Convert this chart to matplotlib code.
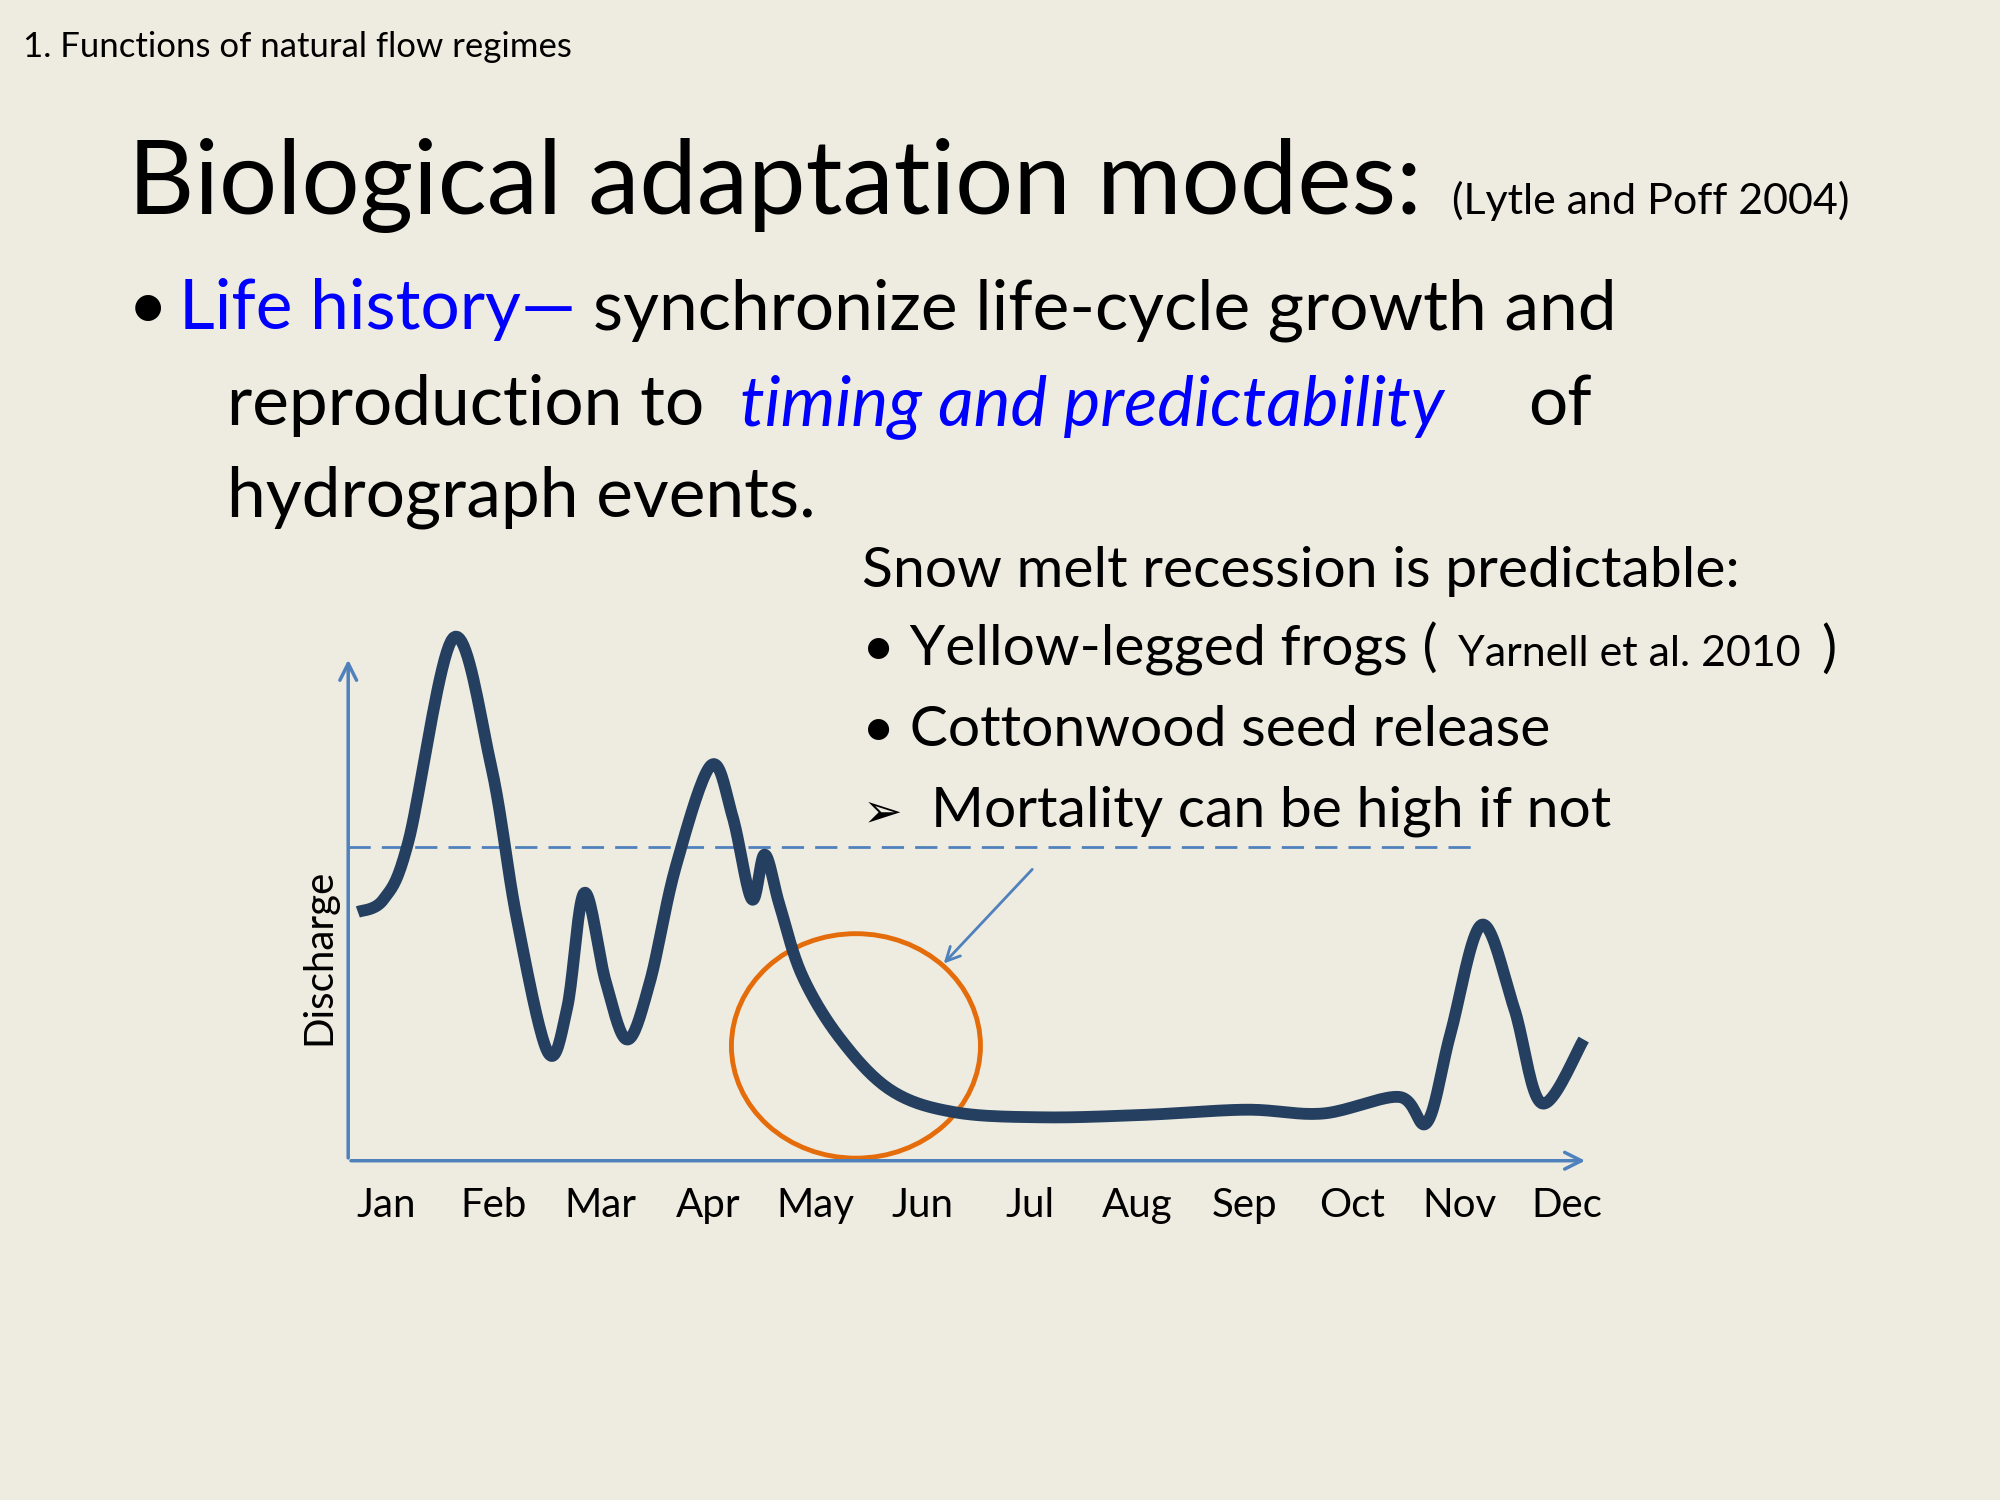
import matplotlib.pyplot as plt
import numpy as np
from matplotlib.patches import Ellipse

plt.rcParams["font.family"] = ["Lato", "DejaVu Sans"]

BG = "#EEEBE0"
LINE = "#243F60"
AXC = "#4F81BD"
BLUE = "#0000FF"

months = ["Jan", "Feb", "Mar", "Apr", "May", "Jun", "Jul", "Aug", "Sep", "Oct", "Nov", "Dec"]
# hydrograph control points: time in months (Jan = 0), discharge in arbitrary units
t = [-0.26, -0.02, 0.21, 0.63, 0.98, 1.22, 1.51, 1.69, 1.85, 2.05, 2.25, 2.46, 2.70, 3.03, 3.23,
     3.41, 3.53, 3.67, 3.88, 4.24, 4.71, 5.30, 6.13, 7.08, 8.02, 8.73, 9.44, 9.70, 9.92, 10.21,
     10.51, 10.77, 11.16]
q = [195, 205, 250, 410, 310, 190, 85, 120, 210, 140, 95, 140, 230, 310, 270,
     205, 240, 200, 145, 95, 55, 38, 34, 36, 40, 37, 50, 30, 100, 185,
     120, 45, 95]
threshold = 246


def catmull_rom(x, y, n=20):
    p = np.column_stack([x, y]).astype(float)
    p = np.vstack([p[0], p, p[-1]])
    out = []
    s = np.linspace(0, 1, n, endpoint=False)[:, None]
    for i in range(1, len(p) - 2):
        p0, p1, p2, p3 = p[i - 1], p[i], p[i + 1], p[i + 2]
        out.append(0.5 * (2 * p1 + (-p0 + p2) * s + (2 * p0 - 5 * p1 + 4 * p2 - p3) * s**2
                          + (-p0 + 3 * p1 - 3 * p2 + p3) * s**3))
    out.append(p[-2][None, :])
    c = np.vstack(out)
    return c[:, 0], c[:, 1]


W, H = 1568, 1176
fig = plt.figure(figsize=(20, 15), dpi=100, facecolor=BG)


def ft(px, py, s, **kw):
    kw.setdefault("va", "baseline")
    fig.text(px / W, 1 - py / H, s, **kw)


ft(18, 45, "1. Functions of natural flow regimes", fontsize=25)
ft(100, 168, "Biological adaptation modes:", fontsize=74)
ft(1138, 168, "(Lytle and Poff 2004)", fontsize=31)
ft(100, 258, "•", fontsize=50)
ft(140, 258, "Life history—", fontsize=50, color=BLUE)
ft(465, 258, "synchronize life-cycle growth and", fontsize=50)
ft(178, 333, "reproduction to", fontsize=50)
ft(580, 333, "timing and predictability", fontsize=50, color=BLUE, style="italic")
ft(1198, 333, "of", fontsize=50)
ft(178, 405, "hydrograph events.", fontsize=50)
ft(676, 460, "Snow melt recession is predictable:", fontsize=41)
ft(676, 522, "• Yellow-legged frogs (", fontsize=41)
ft(1143, 522, "Yarnell et al. 2010", fontsize=31)
ft(1428, 522, ")", fontsize=41)
ft(676, 585, "• Cottonwood seed release", fontsize=41)
ft(676, 648, "➢", fontsize=34, family=["DejaVu Sans"])
ft(730, 648, "Mortality can be high if not", fontsize=41)

ax = fig.add_axes([273 / W, 1 - 910 / H, (1245 - 273) / W, (910 - 515) / H])
ax.set_facecolor("none")
ax.set_xlim(-0.35, 11.2)
ax.set_ylim(0, 395)
for sp in ax.spines.values():
    sp.set_visible(False)
ax.set_xticks([])
ax.set_yticks([])

ax.annotate("", xy=(11.2, 0), xytext=(-0.35, 0), annotation_clip=False,
            arrowprops=dict(arrowstyle="->", color=AXC, lw=2.5, mutation_scale=30))
ax.annotate("", xy=(-0.35, 395), xytext=(-0.35, 0), annotation_clip=False,
            arrowprops=dict(arrowstyle="->", color=AXC, lw=2.5, mutation_scale=30))

ax.plot([-0.35, 10.13], [threshold, threshold], ls=(0, (8, 4)), color=AXC, lw=2)
xs, ys = catmull_rom(t, q)
ax.plot(xs, ys, color=LINE, lw=8.5, solid_capstyle="butt", clip_on=False)
ax.add_patch(Ellipse((4.38, 90), 2.32, 176, fill=False, ec="#E46C0A", lw=3.5, clip_on=False))
ax.annotate("", xy=(5.18, 153), xytext=(6.04, 230),
            arrowprops=dict(arrowstyle="->", color=AXC, lw=2, mutation_scale=25))

for i, m in enumerate(months):
    ax.text(i, -35, m, ha="center", va="center", fontsize=29, clip_on=False)
fig.text(250 / W, 1 - 750 / H, "Discharge", rotation=90, ha="center", va="center", fontsize=29)

fig.savefig("out.png", facecolor=BG)
